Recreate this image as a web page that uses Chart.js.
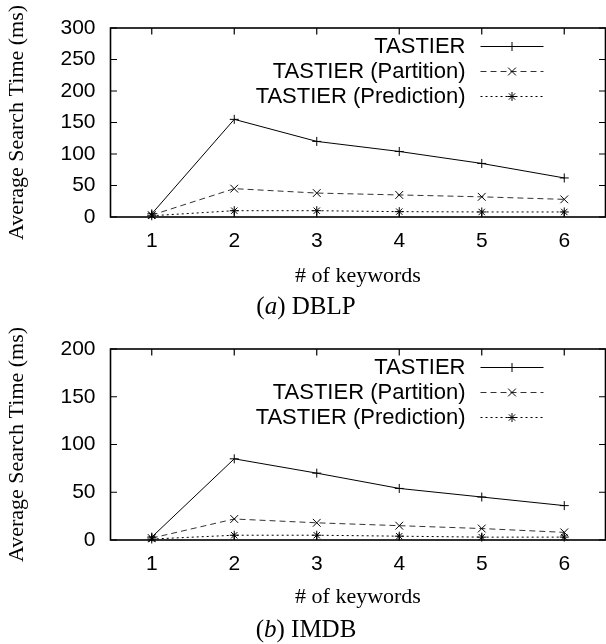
<!DOCTYPE html>
<html>
<head>
<meta charset="utf-8">
<script src="https://cdn.jsdelivr.net/npm/chart.js@4/dist/chart.umd.min.js"></script>
<style>
  html, body { margin: 0; padding: 0; background: #fff; width: 606px; height: 644px; overflow: hidden; }
  .wrap { position: absolute; left: 0; width: 612px; }
  canvas { display: block; }
  .cap { position: absolute; left: 0; width: 612px; text-align: center;
         font-family: "Liberation Serif", "Times New Roman", serif; font-size: 25px; line-height: 28px; color: #000; }
</style>
</head>
<body>
<div class="wrap" style="top:0px;height:320px"><canvas id="c1" width="612" height="320"></canvas></div>
<div class="cap" style="top:292px">(<i>a</i>) DBLP</div>
<div class="wrap" style="top:320px;height:324px"><canvas id="c2" width="612" height="324"></canvas></div>
<div class="cap" style="top:615px">(<i>b</i>) IMDB</div>
<script>
// ---- data ----
const categories = ['1', '2', '3', '4', '5', '6'];
const seriesNames = ['TASTIER', 'TASTIER (Partition)', 'TASTIER (Prediction)'];
const dblpTastier    = [5, 155, 120, 104, 85, 62];
const dblpPartition  = [3, 45, 38, 35, 32, 28];
const dblpPrediction = [2, 10, 10, 8.5, 8, 8];
const imdbTastier    = [3, 85, 70, 54, 45, 36];
const imdbPartition  = [2, 22, 18, 15, 12, 8];
const imdbPrediction = [1, 5, 5, 4, 3, 3];
const dblpYTicks = [0, 50, 100, 150, 200, 250, 300];
const imdbYTicks = [0, 50, 100, 150, 200];
const xTitle = '# of keywords';
const yTitle = 'Average Search Time (ms)';

const SANS = '"Liberation Sans", Arial, Helvetica, sans-serif';
const SERIF = '"Liberation Serif", "Times New Roman", serif';

function drawMarker(ctx, style, x, y, r) {
  ctx.beginPath();
  if (style === 'cross' || style === 'star') {
    ctx.moveTo(x - r, y); ctx.lineTo(x + r, y);
    ctx.moveTo(x, y - r); ctx.lineTo(x, y + r);
  }
  if (style === 'crossRot' || style === 'star') {
    const d = r * Math.SQRT1_2;
    ctx.moveTo(x - d, y - d); ctx.lineTo(x + d, y + d);
    ctx.moveTo(x - d, y + d); ctx.lineTo(x + d, y - d);
  }
  ctx.stroke();
}

const framePlugin = {
  id: 'gpFrame',
  afterDraw(chart) {
    const { ctx, chartArea: a } = chart;
    const xs = chart.scales.x, ys = chart.scales.y;
    ctx.save();
    ctx.strokeStyle = '#000';
    ctx.lineWidth = 1.6;
    ctx.strokeRect(a.left, a.top, a.right - a.left, a.bottom - a.top);
    ctx.lineWidth = 1.2;
    const tl = 6.5;
    ctx.beginPath();
    xs.ticks.forEach((t, i) => {
      const px = xs.getPixelForTick(i);
      ctx.moveTo(px, a.bottom); ctx.lineTo(px, a.bottom - tl);
      ctx.moveTo(px, a.top); ctx.lineTo(px, a.top + tl);
    });
    ys.ticks.forEach(t => {
      const py = ys.getPixelForValue(t.value);
      ctx.moveTo(a.left, py); ctx.lineTo(a.left + tl, py);
      ctx.moveTo(a.right, py); ctx.lineTo(a.right - tl, py);
    });
    ctx.stroke();
    // legend
    chart.data.datasets.forEach((ds, i) => {
      const y = a.top + 18.5 + i * 25;
      ctx.font = '22px ' + SANS;
      ctx.textAlign = 'right';
      ctx.textBaseline = 'middle';
      ctx.fillStyle = '#000';
      ctx.fillText(ds.label, a.right - 140, y);
      ctx.strokeStyle = ds.borderColor;
      ctx.lineWidth = 1;
      ctx.setLineDash(ds.borderDash || []);
      ctx.beginPath();
      ctx.moveTo(a.right - 125, y); ctx.lineTo(a.right - 62, y);
      ctx.stroke();
      ctx.setLineDash([]);
      ctx.strokeStyle = '#000';
      drawMarker(ctx, ds.pointStyle, a.right - 93.5, y, ds.pointRadius);
    });
    ctx.restore();
  }
};

function makeDatasets(t, p, q) {
  return [
    { label: seriesNames[0], data: t, borderColor: '#000', borderWidth: 1, borderDash: [],
      pointStyle: 'cross', pointRadius: 4.5, pointBorderColor: '#000', pointBorderWidth: 1, clip: false },
    { label: seriesNames[1], data: p, borderColor: '#333', borderWidth: 1, borderDash: [6, 4],
      pointStyle: 'crossRot', pointRadius: 5.5, pointBorderColor: '#000', pointBorderWidth: 1, clip: false },
    { label: seriesNames[2], data: q, borderColor: '#000', borderWidth: 1, borderDash: [2, 3],
      pointStyle: 'star', pointRadius: 4.5, pointBorderColor: '#000', pointBorderWidth: 1, clip: false }
  ];
}

function makeChart(id, datasets, yTicks, topPad, xAxisH, titlePadB) {
  const yMax = yTicks[yTicks.length - 1];
  return new Chart(document.getElementById(id), {
    type: 'line',
    data: { labels: categories, datasets },
    options: {
      responsive: false,
      animation: false,
      devicePixelRatio: 1,
      layout: { padding: { top: topPad, right: 4, bottom: 0, left: 0 } },
      elements: { line: { tension: 0, fill: false } },
      plugins: { legend: { display: false }, tooltip: { enabled: false } },
      scales: {
        x: {
          type: 'category', offset: true,
          grid: { display: false, drawTicks: false },
          border: { display: false },
          ticks: { color: '#000', font: { family: SANS, size: 21 }, padding: 12, maxRotation: 0 },
          title: { display: true, text: xTitle, color: '#000', font: { family: SERIF, size: 22 },
                   padding: { top: 0, bottom: titlePadB } },
          afterFit(s) { s.height = xAxisH; }
        },
        y: {
          min: 0, max: yMax,
          grid: { display: false, drawTicks: false },
          border: { display: false },
          afterBuildTicks(s) { s.ticks = yTicks.map(v => ({ value: v })); },
          ticks: { color: '#000', font: { family: SANS, size: 21 }, padding: 15 },
          title: { display: true, text: yTitle, color: '#000', font: { family: SERIF, size: 22 },
                   padding: { top: 4, bottom: 0 } },
          afterFit(s) { s.width = 110.5; }
        }
      }
    },
    plugins: [framePlugin]
  });
}

makeChart('c1', makeDatasets(dblpTastier, dblpPartition, dblpPrediction), dblpYTicks, 28, 103, 31);
makeChart('c2', makeDatasets(imdbTastier, imdbPartition, imdbPrediction), imdbYTicks, 29, 104, 34);
</script>
</body>
</html>
